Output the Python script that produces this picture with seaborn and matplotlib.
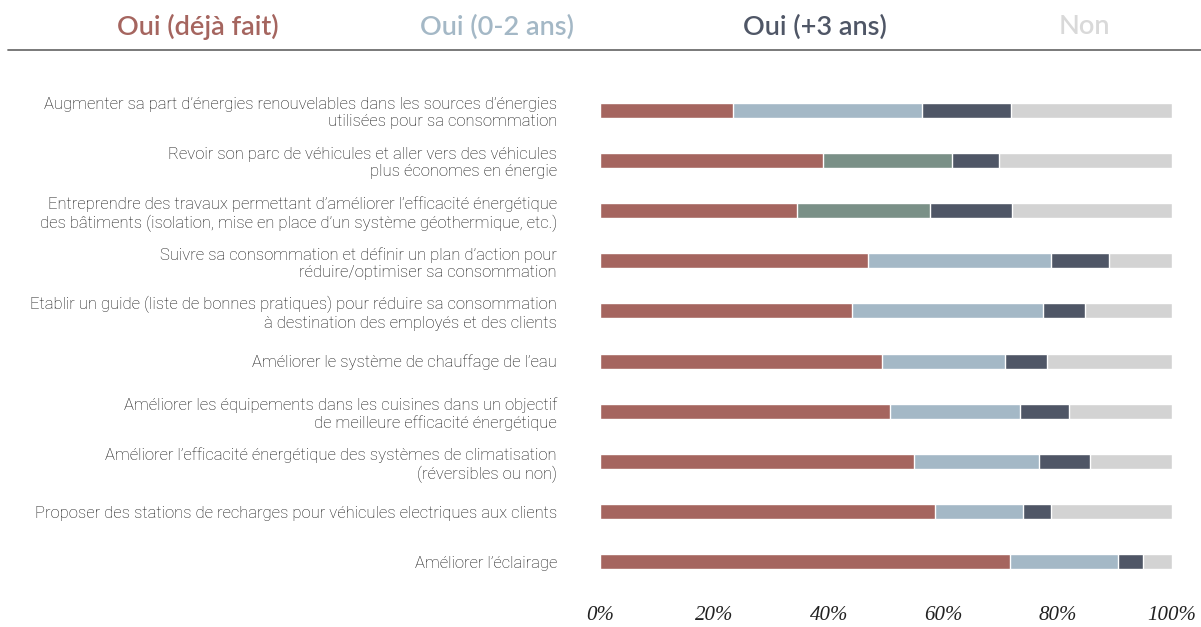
import pandas as pd
import numpy as np
import seaborn as sns
import matplotlib.pyplot as plt

# Categories (actions) and shares per answer (%)
actions = [
    "Augmenter sa part d\u2019\u00e9nergies renouvelables dans les sources d\u2019\u00e9nergies\nutilis\u00e9es pour sa consommation",
    "Revoir son parc de v\u00e9hicules et aller vers des v\u00e9hicules\nplus \u00e9conomes en \u00e9nergie",
    "Entreprendre des travaux permettant d\u2019am\u00e9liorer l\u2019efficacit\u00e9 \u00e9nerg\u00e9tique\ndes b\u00e2timents (isolation, mise en place d\u2019un syst\u00e8me g\u00e9othermique, etc.)",
    "Suivre sa consommation et d\u00e9finir un plan d\u2019action pour\nr\u00e9duire/optimiser sa consommation",
    "Etablir un guide (liste de bonnes pratiques) pour r\u00e9duire sa consommation\n\u00e0 destination des employ\u00e9s et des clients",
    "Am\u00e9liorer le syst\u00e8me de chauffage de l\u2019eau",
    "Am\u00e9liorer les \u00e9quipements dans les cuisines dans un objectif\nde meilleure efficacit\u00e9 \u00e9nerg\u00e9tique",
    "Am\u00e9liorer l\u2019efficacit\u00e9 \u00e9nerg\u00e9tique des syst\u00e8mes de climatisation\n(r\u00e9versibles ou non)",
    "Proposer des stations de recharges pour v\u00e9hicules electriques aux clients",
    "Am\u00e9liorer l\u2019\u00e9clairage",
]
deja_fait = [23.3, 39.0, 34.4, 46.9, 44.1, 49.3, 50.7, 54.9, 58.5, 71.6]
oui_0_2 = [33.0, 22.5, 23.3, 32.0, 33.4, 21.5, 22.8, 21.9, 15.4, 19.0]
oui_3 = [15.5, 8.3, 14.4, 10.0, 7.2, 7.4, 8.4, 8.8, 4.9, 4.4]
non = [28.2, 30.2, 27.9, 11.1, 15.3, 21.8, 18.1, 14.4, 21.2, 5.0]

legend_labels = ["Oui (d\u00e9j\u00e0 fait)", "Oui (0-2 ans)", "Oui (+3 ans)", "Non"]

red = "#A5655F"
blue = "#A4B8C6"
green = "#7A9087"
dark = "#4F5666"
grey = "#D3D3D3"

df = pd.DataFrame({"action": actions, "deja": deja_fait, "court": oui_0_2,
                   "long": oui_3, "non": non})
df["c1"] = df["deja"]
df["c2"] = df["c1"] + df["court"]
df["c3"] = df["c2"] + df["long"]
df["c4"] = df["c3"] + df["non"]

# the 0-2 ans segment is drawn green on rows 2 and 3 in the original
mid_colors = {a: (green if i in (1, 2) else blue) for i, a in enumerate(actions)}

sns.set_theme(style="white")
plt.rcParams["font.family"] = ["Lato", "DejaVu Sans"]

fig = plt.figure(figsize=(12.01, 6.27), dpi=100)
ax = fig.add_axes([0.4996, 0.0638, 0.4763, 0.8006])

w = 0.3
sns.barplot(data=df, x="c4", y="action", color=grey, width=w, ax=ax, saturation=1)
sns.barplot(data=df, x="c3", y="action", color=dark, width=w, ax=ax, saturation=1)
sns.barplot(data=df, x="c2", y="action", hue="action", palette=mid_colors,
            legend=False, width=w, ax=ax, saturation=1)
sns.barplot(data=df, x="c1", y="action", color=red, width=w, ax=ax, saturation=1)

ax.set_xlim(0, 100)
ax.set_ylim(9.5, -0.5)
ax.set_xlabel("")
ax.set_ylabel("")
ax.set_xticks([0, 20, 40, 60, 80, 100])
ax.set_xticklabels([f"{v}%" for v in [0, 20, 40, 60, 80, 100]],
                   family="Liberation Serif", style="italic", fontsize=15, color="#222222")
ax.tick_params(axis="x", length=0, pad=14)
ax.tick_params(axis="y", length=0, pad=31)
for lab in ax.get_yticklabels():
    lab.set_family(["Roboto", "DejaVu Sans"])
    lab.set_fontsize(12)
    lab.set_fontweight("light")
    lab.set_color("#111111")
    lab.set_horizontalalignment("right")
    lab.set_multialignment("right")
    lab.set_linespacing(1.22)
sns.despine(ax=ax, left=True, bottom=True)

# legend row across the top
leg_colors = [red, blue, dark, "#D9D9D9"]
leg_x = [198, 497, 815, 1084]
for lab, c, x in zip(legend_labels, leg_colors, leg_x):
    fig.text(x / 1201, 1 - 27 / 627, lab, color=c, fontsize=19.5, fontweight="semibold",
             ha="center", va="center")
fig.add_artist(plt.Line2D([8 / 1201, 1], [1 - 50 / 627] * 2, color="#6E6E6E", lw=1.3))

fig.savefig("out.png", dpi=100)
